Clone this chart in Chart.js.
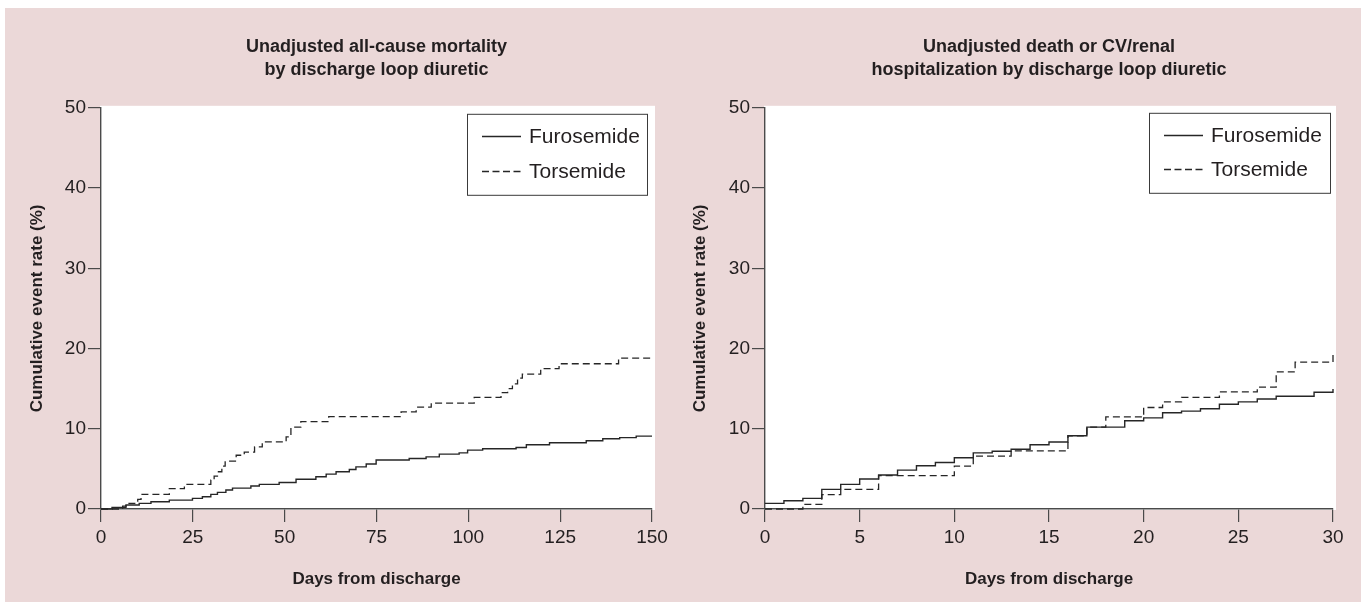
<!DOCTYPE html>
<html><head><meta charset="utf-8">
<script src="https://cdn.jsdelivr.net/npm/chart.js@4/dist/chart.umd.min.js"></script>
<style>
html,body{margin:0;padding:0;background:#fff;width:1366px;height:608px;overflow:hidden;}
#panel{position:absolute;left:5px;top:8px;width:1356px;height:594px;background:#ebd8d8;}
canvas{position:absolute;top:0;}
#c1{left:0px;} #c2{left:683px;}
</style></head><body>
<div id="panel"></div>
<canvas id="c1" width="683" height="608"></canvas>
<canvas id="c2" width="683" height="608"></canvas>
<script>
// ---- Data ----
const seriesLabels = ['Furosemide', 'Torsemide'];

// Left: unadjusted all-cause mortality (days 0-150)
const mortFuroDays = [0, 3, 6.8, 10.4, 13.6, 18.6, 24.9, 27.6, 29.9, 31.7, 34.0, 35.8, 40.8, 43.1, 48.5, 53.1, 58.5, 61.3, 64.0, 67.6, 69.4, 72.2, 74.9, 83.9, 88.5, 92.1, 97.5, 99.8, 103.9, 113.0, 115.8, 122.1, 132.1, 136.6, 141.2, 145.7, 150];
const mortFuroRate = [0, 0.2, 0.5, 0.7, 0.9, 1.1, 1.33, 1.53, 1.82, 2.07, 2.36, 2.6, 2.86, 3.07, 3.3, 3.7, 4.02, 4.35, 4.64, 4.93, 5.25, 5.6, 6.1, 6.3, 6.5, 6.84, 7.0, 7.34, 7.5, 7.67, 8.0, 8.25, 8.5, 8.75, 8.9, 9.08, 9.08];
const mortTorDays = [0, 5.9, 6.8, 10.0, 10.9, 18.6, 22.7, 29.9, 30.8, 31.7, 32.9, 33.8, 36.8, 39.0, 41.8, 43.9, 50.4, 51.7, 54.4, 62.0, 81.7, 85.8, 89.9, 101.6, 108.9, 110.7, 112.0, 113.4, 114.7, 119.7, 124.7, 140.9, 150];
const mortTorRate = [0, 0.37, 0.7, 1.2, 1.82, 2.53, 3.07, 3.6, 4.1, 4.64, 5.35, 5.97, 6.7, 7.1, 7.75, 8.37, 9.0, 10.2, 10.9, 11.5, 12.1, 12.7, 13.2, 13.9, 14.5, 15.0, 15.6, 16.3, 16.8, 17.5, 18.1, 18.8, 18.8];

// Right: unadjusted death or CV/renal hospitalization (days 0-30)
const hospFuroDays = [0, 1, 2, 3, 4, 5, 6, 7, 8, 9, 10, 11, 12, 13, 14, 15, 16, 17, 19, 20, 21, 22, 23, 24, 25, 26, 27, 29, 30];
const hospFuroRate = [0.7, 1.03, 1.33, 2.45, 3.07, 3.73, 4.23, 4.85, 5.39, 5.8, 6.38, 7.0, 7.2, 7.45, 8.0, 8.35, 9.12, 10.2, 11.0, 11.36, 12.0, 12.2, 12.5, 13.06, 13.35, 13.7, 14.05, 14.55, 14.95];
const hospTorDays = [0, 2, 3, 4, 6, 10, 11, 13, 16, 17, 18, 20, 21, 22, 24, 26, 27, 28, 30];
const hospTorRate = [0, 0.58, 1.78, 2.45, 4.15, 5.35, 6.6, 7.25, 9.12, 10.2, 11.48, 12.65, 13.35, 13.9, 14.6, 15.2, 17.1, 18.3, 19.3];

const yTicks = [0, 10, 20, 30, 40, 50];
const leftXTicks = [0, 25, 50, 75, 100, 125, 150];
const rightXTicks = [0, 5, 10, 15, 20, 25, 30];

const leftTitle = ['Unadjusted all-cause mortality', 'by discharge loop diuretic'];
const rightTitle = ['Unadjusted death or CV/renal', 'hospitalization by discharge loop diuretic'];
const xTitle = 'Days from discharge';
const yTitle = 'Cumulative event rate (%)';

// ---- Styling ----
const FONT = '"Liberation Sans", Arial, Helvetica, sans-serif';
const TXT = '#231f20';
const AX = '#4a4a4a';
const LINE = '#262626';

const toPts = (xs, ys) => xs.map((x, i) => ({x: x, y: ys[i]}));

const plotBg = {
  id: 'plotBg',
  beforeDraw(chart) {
    const {ctx, chartArea: ca} = chart;
    ctx.save();
    ctx.fillStyle = '#ffffff';
    ctx.fillRect(ca.left - 1, ca.top - 2, ca.width + 4, ca.height + 3);
    ctx.restore();
  }
};

const boxLegend = {
  id: 'boxLegend',
  afterDatasetsDraw(chart, args, o) {
    const {ctx, chartArea: ca} = chart;
    const x = ca.right - o.right - o.w, y = ca.top + o.top;
    ctx.save();
    ctx.fillStyle = '#fff';
    ctx.fillRect(x, y, o.w, o.h);
    ctx.strokeStyle = '#3a3a3a';
    ctx.lineWidth = 1;
    ctx.strokeRect(x + 0.5, y + 0.5, o.w, o.h);
    chart.data.datasets.forEach((ds, i) => {
      const cy = Math.round(y + o.rows[i]) + 0.5;
      ctx.strokeStyle = ds.borderColor;
      ctx.lineWidth = 1.3;
      ctx.setLineDash(ds.borderDash ? [7, 3.5] : []);
      ctx.beginPath();
      ctx.moveTo(x + 15, cy);
      ctx.lineTo(x + 54, cy);
      ctx.stroke();
      ctx.setLineDash([]);
      ctx.fillStyle = TXT;
      ctx.font = '21px ' + FONT;
      ctx.textBaseline = 'middle';
      ctx.textAlign = 'left';
      ctx.fillText(ds.label, x + 62, cy + 1);
    });
    ctx.restore();
  }
};

function makeChart(id, title, furo, tor, xMax, xStep, xTickVals, lay) {
  return new Chart(document.getElementById(id), {
    type: 'line',
    data: {
      datasets: [
        {label: seriesLabels[0], data: furo, borderColor: LINE, borderWidth: 1.4, stepped: true, pointRadius: 0, fill: false, clip: false},
        {label: seriesLabels[1], data: tor, borderColor: LINE, borderWidth: 1.3, borderDash: [7, 4], stepped: true, pointRadius: 0, fill: false, clip: false}
      ]
    },
    plugins: [plotBg, boxLegend],
    options: {
      responsive: false,
      animation: false,
      events: [],
      layout: {padding: {left: lay.padL, right: lay.padR, top: 0, bottom: 0}},
      plugins: {
        legend: {display: false},
        tooltip: {enabled: false},
        title: {
          display: true, text: title, fullSize: false, color: TXT,
          font: {family: FONT, size: 18, weight: 'bold', lineHeight: 1.3},
          padding: {top: 35, bottom: 26}
        },
        boxLegend: lay.legend
      },
      scales: {
        x: {
          type: 'linear', min: 0, max: xMax,
          afterFit: s => { s.height = 99; },
          afterBuildTicks: s => { s.ticks = xTickVals.map(v => ({value: v})); },
          ticks: {stepSize: xStep, color: TXT, font: {family: FONT, size: 19}, padding: 4, maxRotation: 0, autoSkip: false},
          grid: {drawOnChartArea: false, drawTicks: true, tickLength: 13, color: AX, lineWidth: 1.2},
          border: {display: true, color: AX, width: 1.4},
          title: {display: true, text: xTitle, color: TXT, font: {family: FONT, size: 17, weight: 'bold'}, padding: {top: 0, bottom: 18}}
        },
        y: {
          type: 'linear', min: 0, max: 50,
          afterFit: s => { s.width = lay.yW; },
          afterBuildTicks: s => { s.ticks = yTicks.map(v => ({value: v})); },
          ticks: {color: TXT, font: {family: FONT, size: 19}, padding: 2},
          grid: {drawOnChartArea: false, drawTicks: true, tickLength: 13, color: AX, lineWidth: 1.2},
          border: {display: true, color: AX, width: 1.4},
          title: {display: true, text: yTitle, color: TXT, font: {family: FONT, size: 17, weight: 'bold'}, padding: {top: lay.yTitlePad, bottom: 0}}
        }
      }
    }
  });
}

makeChart('c1', leftTitle, toPts(mortFuroDays, mortFuroRate), toPts(mortTorDays, mortTorRate), 150, 25, leftXTicks,
  {padL: 5, padR: 31, yW: 96, yTitlePad: 22, legend: {right: 5, top: 6, w: 180, h: 81, rows: [22, 57]}});
makeChart('c2', rightTitle, toPts(hospFuroDays, hospFuroRate), toPts(hospTorDays, hospTorRate), 30, 5, rightXTicks,
  {padL: 3, padR: 33, yW: 79, yTitlePad: 4, legend: {right: 3, top: 5, w: 181, h: 80, rows: [22, 56]}});
</script>
</body></html>
